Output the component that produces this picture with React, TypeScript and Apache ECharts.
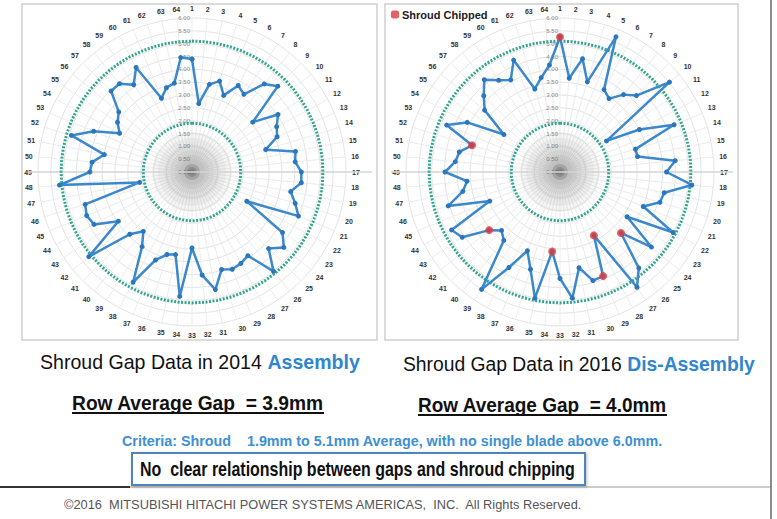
import React, { useEffect, useRef } from "react";
import * as echarts from "echarts";

// ---------- data ----------
const bladeLabels = [
  "1", "2", "3", "4", "5", "6", "7", "8", "9", "10", "11", "12", "13", "14", "15", "16",
  "17", "18", "19", "20", "21", "22", "23", "24", "25", "26", "27", "28", "29", "30", "31", "32",
  "33", "34", "35", "36", "37", "38", "39", "40", "41", "42", "43", "44", "45", "46", "47", "48",
  "49", "50", "51", "52", "53", "54", "55", "56", "57", "58", "59", "60", "61", "62", "63", "64",
];

// Shroud gap (mm) per blade, 2014 assembly
const gap2014 = [
  4.40, 2.68, 3.48, 3.70, 3.23, 3.82, 3.64, 4.44, 4.73, 3.06, 4.03, 3.74, 3.59, 3.00, 4.11, 4.04,
  4.26, 4.28, 3.92, 4.20, 4.49, 2.42, 4.24, 4.63, 4.22, 5.01, 3.92, 4.04, 4.10, 3.97, 4.67, 4.04,
  2.96, 4.87, 3.28, 3.36, 3.71, 4.87, 3.50, 2.99, 3.43, 5.20, 3.45, 4.33, 4.44, 4.35, 2.08, 5.19,
  3.98, 3.91, 3.48, 4.91, 4.15, 3.20, 3.49, 3.69, 4.46, 4.45, 4.09, 4.62, 3.11, 3.43, 3.53, 4.48,
];

// Shroud gap (mm) per blade, 2016 dis-assembly
const gap2016 = [
  5.26, 3.67, 4.50, 3.67, 5.70, 3.64, 3.44, 3.90, 4.21, 5.52, 2.18, 3.51, 4.81, 3.07, 3.08, 4.51,
  4.15, 5.16, 4.14, 4.07, 3.51, 5.00, 3.14, 4.61, 3.36, 4.84, 5.40, 2.80, 4.39, 4.42, 3.80, 4.94,
  4.15, 3.11, 5.01, 3.96, 3.32, 4.22, 5.50, 3.45, 3.22, 3.57, 4.58, 4.79, 2.96, 4.55, 3.86, 3.64,
  4.48, 4.10, 4.00, 3.58, 4.78, 4.10, 2.63, 3.80, 4.20, 4.65, 4.30, 4.07, 4.72, 3.38, 3.75, 4.19,
];

// blades with chipped shroud in 2016
const chippedBlades2016 = [1, 25, 28, 29, 34, 42, 52];

const criteriaLow = 1.9;
const criteriaHigh = 5.1;
const radiusMax = 6;
const radiusStep = 0.5;

const legendLabel = "Shroud Chipped";
const title2014 = ["Shroud Gap Data in 2014 ", "Assembly"];
const title2016 = ["Shroud Gap Data in 2016 ", "Dis-Assembly"];
const avg2014 = "Row Average Gap  = 3.9mm";
const avg2016 = "Row Average Gap  = 4.0mm";
const criteriaText = "Criteria: Shroud    1.9mm to 5.1mm Average, with no single blade above 6.0mm.";
const boxText = "No  clear relationship between gaps and shroud chipping";
const footerText = "\u00A92016  MITSUBISHI HITACHI POWER SYSTEMS AMERICAS,  INC.  All Rights Reserved.";

// ---------- style ----------
const FONT = "'Liberation Sans', Arial, sans-serif";
const LINE_BLUE = "#3b88cc";
const DOT_BLUE = "#2a77be";
const TEAL = "#33a58f";
const RED = "#e0393e";
const TEXT_BLUE = "#2f86cf";

let measureCtx: CanvasRenderingContext2D | null = null;
function measure(text: string, font: string): number {
  if (!measureCtx) measureCtx = document.createElement("canvas").getContext("2d");
  if (!measureCtx) return 100;
  measureCtx.font = font;
  return measureCtx.measureText(text).width;
}

function loop(values: number[]) {
  return values.map((v, i) => [v, i]).concat([[values[0], values.length]]);
}

function fittedText(
  text: string,
  x: number,
  y: number,
  width: number,
  size: number,
  weight: string,
  fill: string
) {
  const font = `${weight} ${size}px ${FONT}`;
  const w = measure(text, font);
  return {
    type: "text",
    x,
    y,
    scaleX: width / w,
    z: 10,
    style: {
      text,
      x: 0,
      y: 0,
      font,
      fill,
      textAlign: "left",
      textVerticalAlign: "middle",
      align: "left",
      verticalAlign: "middle",
    },
  };
}

function fittedRich(parts: string[], x: number, y: number, width: number, size: number) {
  const fa = `normal ${size}px ${FONT}`;
  const fb = `bold ${size}px ${FONT}`;
  const w = measure(parts[0], fa) + measure(parts[1], fb);
  return {
    type: "text",
    x,
    y,
    scaleX: width / w,
    z: 10,
    style: {
      text: `{a|${parts[0]}}{b|${parts[1]}}`,
      x: 0,
      y: 0,
      textAlign: "left",
      textVerticalAlign: "middle",
      align: "left",
      verticalAlign: "middle",
      rich: {
        a: { fontSize: size, fontFamily: FONT, fill: "#111", color: "#111" },
        b: { fontSize: size, fontFamily: FONT, fontWeight: "bold", fill: TEXT_BLUE, color: TEXT_BLUE },
      },
    },
  };
}

function angleAxis(polarIndex: number) {
  return {
    polarIndex,
    type: "value",
    min: 0,
    max: bladeLabels.length,
    interval: 1,
    startAngle: 90,
    clockwise: true,
    axisLine: { show: false },
    axisTick: { show: false },
    axisLabel: {
      formatter: (v: number) => bladeLabels[Math.round(v)] ?? "",
      fontSize: 7,
      fontWeight: "bold",
      color: "#333",
      margin: 6,
      fontFamily: FONT,
    },
    splitLine: { show: true, lineStyle: { color: "#ececec", width: 1 } },
  };
}

function radiusAxis(polarIndex: number) {
  return {
    polarIndex,
    min: 0,
    max: radiusMax,
    interval: radiusStep,
    axisLine: { show: false },
    axisTick: { show: false },
    axisLabel: {
      formatter: (v: number) => v.toFixed(2),
      fontSize: 6,
      color: "#8a8a8a",
      margin: 2,
      fontFamily: FONT,
    },
    splitLine: { show: true, lineStyle: { color: "#e4e4e4", width: 1 } },
  };
}

function panelSeries(polarIndex: number, values: number[], name: string) {
  const lowRing = loop(bladeLabels.map(() => criteriaLow));
  const highRing = loop(bladeLabels.map(() => criteriaHigh));
  const ring = (data: number[][]) => ({
    type: "line",
    coordinateSystem: "polar",
    polarIndex,
    data,
    symbol: "none",
    silent: true,
    lineStyle: { color: TEAL, width: 3, type: [2, 1.5] },
    z: 2,
  });
  return [
    ring(lowRing),
    ring(highRing),
    {
      type: "line",
      name,
      coordinateSystem: "polar",
      polarIndex,
      data: loop(values),
      symbol: "circle",
      symbolSize: 5,
      showAllSymbol: true,
      itemStyle: { color: DOT_BLUE },
      lineStyle: { color: LINE_BLUE, width: 2.5 },
      z: 3,
    },
  ];
}

const CENTERS = [
  [192, 172],
  [560, 172],
];
const R = 154;

// soft gray haze around the pole, built from stacked translucent discs
function haze(cx: number, cy: number) {
  const radii = [40, 34, 28, 22, 17, 12, 8, 5, 3];
  return radii.map((r, i) => ({
    type: "circle",
    z: 1,
    silent: true,
    shape: { cx, cy, r },
    style: { fill: i < 6 ? "rgba(120,120,120,0.07)" : "rgba(70,70,70,0.22)" },
  }));
}

export default function App() {
  const ref = useRef<HTMLDivElement>(null);

  useEffect(() => {
    if (!ref.current) return;
    const chart = echarts.init(ref.current, undefined, { renderer: "svg" });

    const graphic: any[] = [
      // panels
      { type: "rect", z: 0, shape: { x: 22, y: 4, width: 355, height: 336 }, style: { fill: "none", stroke: "#cfcfcf", lineWidth: 1.5 } },
      { type: "rect", z: 0, shape: { x: 385, y: 4, width: 353, height: 336 }, style: { fill: "none", stroke: "#cfcfcf", lineWidth: 1.5 } },
      ...haze(CENTERS[0][0], CENTERS[0][1]),
      ...haze(CENTERS[1][0], CENTERS[1][1]),
      // faint cross lines through centers
      { type: "line", z: 1, shape: { x1: 28, y1: 172, x2: 372, y2: 172 }, style: { stroke: "#d6d6d6", lineWidth: 1.5 } },
      { type: "line", z: 1, shape: { x1: 391, y1: 172, x2: 733, y2: 172 }, style: { stroke: "#d6d6d6", lineWidth: 1.5 } },
      // slide edges
      { type: "line", z: 5, shape: { x1: 771, y1: 0, x2: 771, y2: 519 }, style: { stroke: "#8c8c8c", lineWidth: 2 } },
      { type: "line", z: 5, shape: { x1: 0, y1: 487, x2: 770, y2: 487 }, style: { stroke: "#9a9a9a", lineWidth: 1.2 } },
      { type: "line", z: 5, shape: { x1: 0, y1: 487, x2: 130, y2: 487 }, style: { stroke: "#333", lineWidth: 2 } },
      // titles
      fittedRich(title2014, 40, 362, 320, 21),
      fittedRich(title2016, 403, 364, 352, 21),
      fittedText(avg2014, 72, 403, 252, 20, "bold", "#111"),
      fittedText(avg2016, 418, 405, 249, 20, "bold", "#111"),
      { type: "line", z: 10, shape: { x1: 72, y1: 413, x2: 324, y2: 413 }, style: { stroke: "#111", lineWidth: 2 } },
      { type: "line", z: 10, shape: { x1: 418, y1: 415, x2: 667, y2: 415 }, style: { stroke: "#111", lineWidth: 2 } },
      fittedText(criteriaText, 122, 441, 541, 14, "bold", "#3d90d4"),
      { type: "rect", z: 8, shape: { x: 132, y: 453, width: 453, height: 32 }, style: { fill: "#fff", stroke: "#4f86b8", lineWidth: 2, shadowColor: "rgba(0,0,0,0.25)", shadowBlur: 3, shadowOffsetX: 1, shadowOffsetY: 1 } },
      fittedText(boxText, 140, 469, 435, 20, "bold", "#111"),
      fittedText(footerText, 64, 505, 519, 12, "normal", "#555"),
    ];

    chart.setOption({
      animation: false,
      textStyle: { fontFamily: FONT },
      legend: {
        data: [legendLabel],
        left: 391,
        top: 9,
        padding: 0,
        itemWidth: 8,
        itemHeight: 8,
        itemGap: 3,
        icon: "roundRect",
        selectedMode: false,
        textStyle: { fontSize: 11, fontWeight: "bold", color: "#222", fontFamily: FONT, padding: [0, 0, 0, -2] },
      },
      polar: [
        { center: CENTERS[0], radius: R },
        { center: CENTERS[1], radius: R },
      ],
      angleAxis: [angleAxis(0), angleAxis(1)],
      radiusAxis: [radiusAxis(0), radiusAxis(1)],
      series: [
        ...panelSeries(0, gap2014, "Shroud Gap 2014"),
        ...panelSeries(1, gap2016, "Shroud Gap 2016"),
        {
          type: "scatter",
          name: legendLabel,
          coordinateSystem: "polar",
          polarIndex: 1,
          data: chippedBlades2016.map((b) => [gap2016[b - 1], b - 1]),
          symbolSize: 8,
          itemStyle: { color: RED },
          z: 4,
        },
      ],
      graphic,
    });

    return () => chart.dispose();
  }, []);

  return (
    <div
      ref={ref}
      style={{ position: "absolute", left: 0, top: 0, width: 777, height: 519, background: "#fff" }}
    />
  );
}
